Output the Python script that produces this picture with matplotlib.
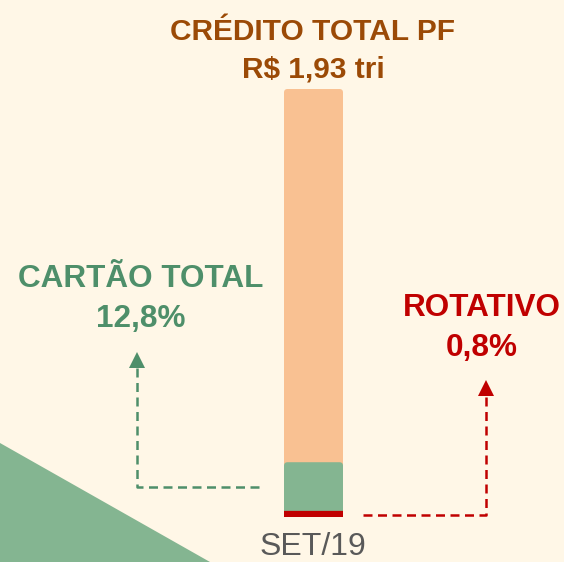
import matplotlib
matplotlib.use('Agg')
import matplotlib.pyplot as plt
from matplotlib.patches import FancyBboxPatch, Polygon, Rectangle

plt.rcParams['font.family'] = ['Liberation Sans', 'DejaVu Sans']

# dados
periodo = ['SET/19']
total_tri = 1.93
cartao_pct = 12.8
rotativo_pct = 0.8

titulo = 'CRÉDITO TOTAL PF\nR$ {:.2f} tri'.format(total_tri).replace('.', ',')
txt_cartao = 'CARTÃO TOTAL\n{:.1f}%'.format(cartao_pct).replace('.', ',')
txt_rot = 'ROTATIVO\n{:.1f}%'.format(rotativo_pct).replace('.', ',')

fundo = '#FFF7E7'
laranja = '#F9C192'
verde = '#84B591'
verde_txt = '#4E8F6A'
vermelho = '#C00000'
marrom = '#9B4A06'

W, H = 564, 562
fig = plt.figure(figsize=(W / 100, H / 100), dpi=100, facecolor=fundo)

# eixo do grafico de barra
ax = fig.add_axes([0, 45 / H, 1, 428 / H])
ax.set_facecolor('none')
ax.set_xlim(-313.5 / 59, 250.5 / 59)
ax.set_ylim(0, 100)
ax.axis('off')

asp = (59 / 1.0) / (428 / 100)  # px por unidade x / px por unidade y


def barra(ymax, cor, arred=True, lw=0):
    b = ax.bar(0, ymax, width=1, color=cor, linewidth=lw, edgecolor=cor)[0]
    if arred:
        b.set_visible(False)
        p = FancyBboxPatch((b.get_x(), b.get_y()), b.get_width(), b.get_height(),
                           boxstyle='round,pad=0,rounding_size=0.06',
                           mutation_aspect=asp, facecolor=cor, edgecolor='none')
        ax.add_patch(p)
    else:
        # borda grossa so pra engrossar a faixa, cortada na largura da barra
        clip = Rectangle((b.get_x(), 0), b.get_width(), 100, transform=ax.transData)
        b.set_clip_path(clip)


barra(100, laranja)
barra(cartao_pct, verde)
barra(rotativo_pct, vermelho, arred=False, lw=4.5)

# camada de decoracao em pixels
ov = fig.add_axes([0, 0, 1, 1], zorder=-1)
ov.set_xlim(0, W)
ov.set_ylim(H, 0)
ov.axis('off')
ov.set_facecolor('none')
ov.add_patch(Polygon([(0, 443), (210, H), (0, H)], closed=True, color=verde, lw=0))

ov2 = fig.add_axes([0, 0, 1, 1])
ov2.set_xlim(0, W)
ov2.set_ylim(H, 0)
ov2.axis('off')
ov2.set_facecolor('none')

tracejado = (0, (3.6, 2.2))
ov2.plot([259, 137, 137], [487, 487, 366], color=verde_txt, lw=1.8, ls=tracejado)
ov2.plot([137], [360], marker='^', color=verde_txt, ms=11, mew=0)
ov2.plot([363, 486, 486], [515, 515, 394], color=vermelho, lw=1.8, ls=tracejado)
ov2.plot([486], [388], marker='^', color=vermelho, ms=11, mew=0)

ov2.text(313, 51, titulo, color=marrom, fontsize=21.5, fontweight='bold',
         ha='center', va='center', linespacing=1.42)
ov2.text(141, 299, txt_cartao, color=verde_txt, fontsize=22.7, fontweight='bold',
         ha='center', va='center', linespacing=1.4)
ov2.text(482, 328, txt_rot, color=vermelho, fontsize=22.7, fontweight='bold',
         ha='center', va='center', linespacing=1.4)
ov2.text(313, 547, periodo[0], color='#595959', fontsize=23,
         ha='center', va='center')

fig.savefig('out.png', dpi=100, facecolor=fundo)
